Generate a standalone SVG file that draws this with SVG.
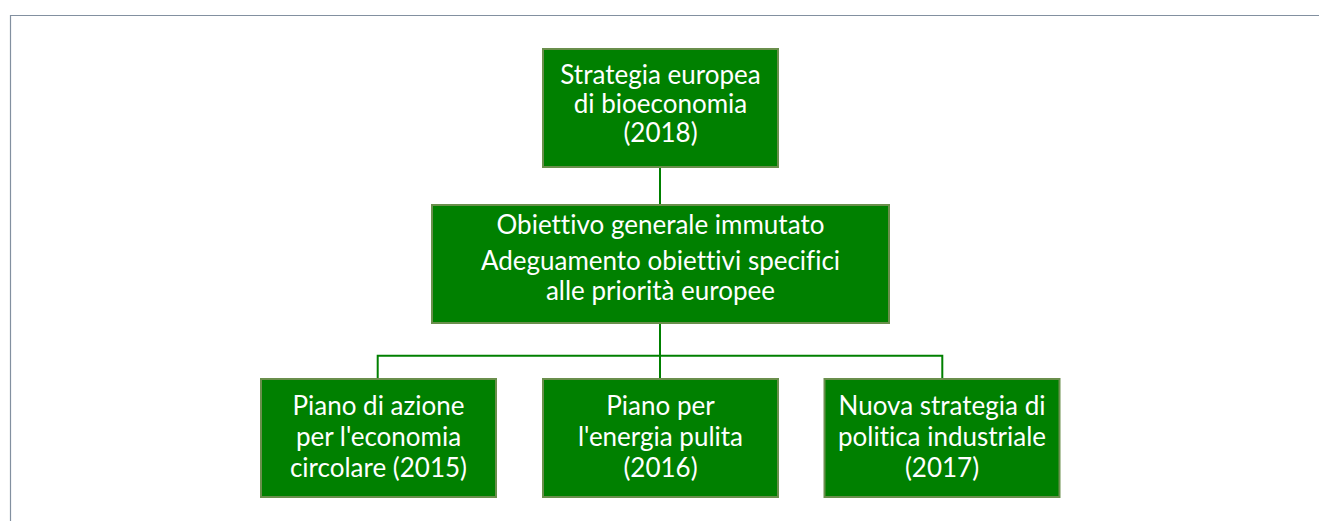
<svg xmlns="http://www.w3.org/2000/svg" width="1319" height="521" viewBox="0 0 1319 521">
<style>
.box{fill:#008000;stroke:#6a8f4c;stroke-width:2}
.t{font-family:Lato,"Open Sans","Liberation Sans",Arial,sans-serif;font-size:26px;fill:#ffffff;text-anchor:middle;font-variant-ligatures:none;font-feature-settings:"liga" 0}
.c{stroke:#008000;stroke-width:2;fill:none}
</style>
<rect x="0" y="0" width="1319" height="521" fill="#ffffff"/>
<path d="M10.5,521 V15.5 H1319" fill="none" stroke="#8290a0" stroke-width="1.2"/>
<g id="connectors">
<line class="c" x1="660" y1="167" x2="660" y2="205"/>
<line class="c" x1="660" y1="323" x2="660" y2="379"/>
<polyline class="c" points="377.7,379 377.7,355.7 942.3,355.7 942.3,379"/>
</g>
<g id="n1">
<rect class="box" x="543" y="49" width="235" height="118"/>
<text class="t" x="660.5" y="83.5">Strategia europea</text>
<text class="t" x="660.5" y="113">di bioeconomia</text>
<text class="t" x="660.5" y="142">(2018)</text>
</g>
<g id="n2">
<rect class="box" x="432" y="205" width="457" height="118"/>
<text class="t" x="660.5" y="234">Obiettivo generale immutato</text>
<text class="t" x="660.5" y="270">Adeguamento obiettivi specifici</text>
<text class="t" x="660.5" y="300">alle priorità europee</text>
</g>
<g id="n3">
<rect class="box" x="261" y="379" width="235" height="118"/>
<text class="t" x="378.5" y="415">Piano di azione</text>
<text class="t" x="378.5" y="445.5">per l'economia</text>
<text class="t" x="378.5" y="476.5">circolare (2015)</text>
</g>
<g id="n4">
<rect class="box" x="543" y="379" width="235" height="118"/>
<text class="t" x="660.5" y="415">Piano per</text>
<text class="t" x="660.5" y="445.5">l'energia pulita</text>
<text class="t" x="660.5" y="476.5">(2016)</text>
</g>
<g id="n5">
<rect class="box" x="824.5" y="379" width="235" height="118"/>
<text class="t" x="942" y="415">Nuova strategia di</text>
<text class="t" x="942" y="445.5">politica industriale</text>
<text class="t" x="942" y="476.5">(2017)</text>
</g>
</svg>
